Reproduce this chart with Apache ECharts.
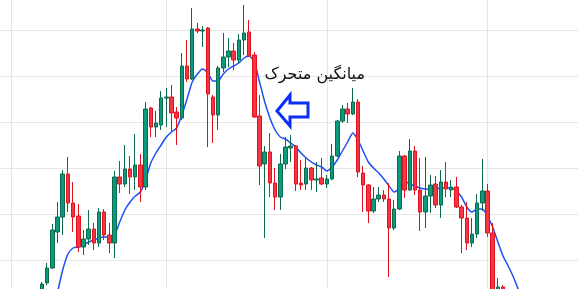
<!DOCTYPE html>
<html>
<head>
<meta charset="utf-8">
<script src="https://cdn.jsdelivr.net/npm/echarts@6/dist/echarts.min.js"></script>
<style>html,body{margin:0;padding:0;background:#fff;}#c{width:578px;height:289px;}</style>
</head>
<body>
<div id="c"></div>
<script>
// Price values (arbitrary units), one entry per candle
const opens  = [16,23,38,74,89,132,103,90,59,67,77,63,94,71,63,129,122,137,129,141,119,198,179,181,208,209,194,188,240,227,277,275,278,209,191,238,249,255,246,266,274,251,190,142,154,123,109,142,158,160,123,122,138,126,128,122,127,150,185,197,192,204,133,121,95,107,111,107,78,97,150,116,155,116,94,110,122,101,124,116,119,99,88,63,72,103,115,73,10,19];
const closes = [22,38,76,89,132,103,89,59,67,77,63,94,71,63,129,122,137,129,141,119,197,179,183,208,209,193,188,240,227,277,275,276,212,191,238,249,255,246,266,273,250,189,140,154,123,109,142,159,160,122,121,138,126,127,122,127,150,185,197,192,204,134,121,95,107,111,107,78,97,150,116,155,116,94,110,121,101,124,117,119,99,88,63,72,103,115,73,6,19,11];
const lows   = [14,21,37,63,71,94,74,54,51,61,56,59,66,53,48,113,119,112,116,104,116,169,169,176,179,175,161,186,224,226,273,259,159,163,176,234,239,236,243,251,249,188,121,68,109,96,96,137,144,115,116,116,116,114,121,118,126,149,183,183,191,129,94,83,93,104,104,29,76,96,108,115,111,75,78,93,98,88,109,109,98,53,56,59,68,95,69,1,6,8];
const highs  = [24,43,82,104,136,149,124,102,76,96,83,98,97,83,135,145,161,150,172,152,204,199,195,215,218,221,199,253,266,298,283,280,279,211,240,273,268,263,272,301,286,254,211,160,173,138,152,169,171,161,146,148,139,144,148,131,162,186,201,203,218,207,140,122,119,119,116,123,106,155,151,167,160,148,149,131,130,136,144,126,129,101,104,88,112,147,122,83,28,21];
// Moving average line (starts at candle 3, runs past the last visible candle)
const maStart = 3;
const maValues = [14,36,52,58,59,61,64,66,68,69,69,71,84,96,104,110,114,126,143,153,161,169,174,178,191,207,224,232,237,233,225,225,232,237,240,243,248,250,244,224,204,188,176,169,167,163,159,153,148,144,141,139,135,139,146,155,164,173,166,155,144,138,133,127,120,114,118,125,122,120,118,117,117,117,118,118,118,115,109,99,94,97,97,90,79,64,50,40,29,16,6];
// Category slots: 8 empty slots before the first candle, the rest after
const slotOffset = 8;
const slotCount = 113;
const categories = Array.from({length: slotCount}, (_, k) => String(k - slotOffset));
const verticalGridSlots = [2, 32, 63, 94];
const labelText = 'میانگین متحرک';

const candleRows = opens.map((o, i) => [i + slotOffset, o, closes[i], lows[i], highs[i]]);
const maRows = maValues.map((v, i) => [i + maStart + slotOffset, v]);

const chart = echarts.init(document.getElementById('c'), null, {renderer: 'canvas'});
chart.setOption({
  animation: false,
  backgroundColor: '#ffffff',
  grid: {left: 0.56, right: -2.72, top: -16, bottom: -17, containLabel: false, outerBoundsMode: 'none'},
  xAxis: {
    type: 'category',
    data: categories,
    boundaryGap: false,
    axisLine: {show: false}, axisTick: {show: false}, axisLabel: {show: false},
    splitLine: {show: true, interval: (idx) => verticalGridSlots.includes(idx), lineStyle: {color: '#e6e6e6', width: 1}}
  },
  yAxis: {
    type: 'value', min: 0, max: 322, interval: 46,
    axisLine: {show: false}, axisTick: {show: false}, axisLabel: {show: false},
    splitLine: {show: true, lineStyle: {color: '#e6e6e6', width: 1}}
  },
  series: [
    {
      type: 'candlestick',
      data: candleRows,
      encode: {x: 0, y: [1, 2, 3, 4]},
      barWidth: 4,
      itemStyle: {
        color: '#0b9a7d', color0: '#f23645',
        borderColor: '#0a6a4c', borderColor0: '#e3101d', borderWidth: 1
      },
      z: 3
    },
    {
      type: 'line',
      data: maRows,
      showSymbol: false,
      symbol: 'none',
      smooth: 0.2,
      lineStyle: {color: '#1f4ef5', width: 1.5},
      z: 2
    }
  ],
  graphic: [
    {
      type: 'text',
      style: {text: labelText, x: 365, y: 75, textAlign: 'right', textVerticalAlign: 'middle',
              font: '16px "DejaVu Sans"', fill: '#111111'},
      z: 10
    },
    {
      type: 'polygon',
      shape: {points: [[277,111],[290,95],[290,103],[308,103],[308,117],[290,117],[290,126]]},
      style: {fill: 'rgba(255,255,255,0)', stroke: '#0b2ff5', lineWidth: 3, lineJoin: 'miter'},
      z: 10
    }
  ]
});
</script>
</body>
</html>
